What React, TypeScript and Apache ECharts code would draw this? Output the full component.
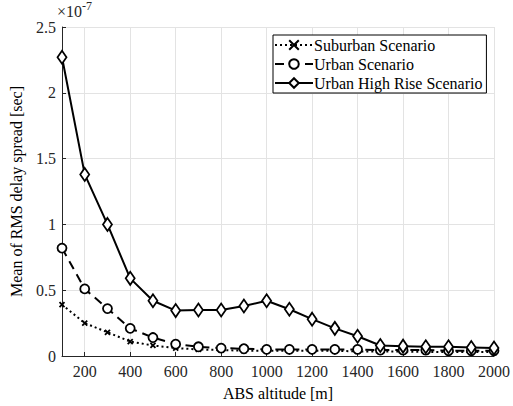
import React, { useEffect, useRef } from "react";
import * as echarts from "echarts";

const altitudes = [100, 200, 300, 400, 500, 600, 700, 800, 900, 1000, 1100, 1200, 1300, 1400, 1500, 1600, 1700, 1800, 1900, 2000];
// values in units of 1e-7 s
const suburban = [0.39, 0.25, 0.18, 0.11, 0.08, 0.06, 0.05, 0.045, 0.04, 0.04, 0.04, 0.04, 0.04, 0.035, 0.035, 0.035, 0.03, 0.03, 0.03, 0.03];
const urban = [0.82, 0.51, 0.36, 0.21, 0.14, 0.09, 0.07, 0.06, 0.055, 0.05, 0.05, 0.05, 0.05, 0.05, 0.045, 0.045, 0.045, 0.04, 0.04, 0.04];
const highRise = [2.27, 1.38, 1.0, 0.59, 0.42, 0.345, 0.35, 0.35, 0.38, 0.42, 0.355, 0.28, 0.21, 0.15, 0.08, 0.075, 0.07, 0.07, 0.065, 0.06];
const seriesNames = ["Suburban Scenario", "Urban Scenario", "Urban High Rise Scenario"];
const yTicks = { min: 0, max: 2.5, interval: 0.5 };

const FONT = "'Liberation Serif', 'Times New Roman', serif";

export default function App() {
  const ref = useRef<HTMLDivElement>(null);
  useEffect(() => {
    const chart = echarts.init(ref.current!, null, { renderer: "svg" });
    const showEven = (i: number) => i % 2 === 1;
    chart.setOption({
      animation: false,
      backgroundColor: "#fff",
      textStyle: { fontFamily: FONT },
      grid: { left: 57, right: 16, top: 27, bottom: 50, containLabel: false },
      legend: {
        orient: "vertical",
        left: 273,
        top: 35,
        padding: [2, 4, 2, 1],
        itemGap: 3,
        itemWidth: 38,
        itemHeight: 12,
        borderColor: "#000",
        borderWidth: 1,
        backgroundColor: "#fff",
        textStyle: { fontFamily: FONT, fontSize: 16, color: "#000", padding: [0, 0, 0, -4] },
        data: seriesNames,
      },
      xAxis: {
        type: "category",
        data: altitudes.map(String),
        boundaryGap: false,
        name: "ABS altitude [m]",
        nameLocation: "middle",
        nameGap: 29,
        nameTextStyle: { fontFamily: FONT, fontSize: 16, color: "#000" },
        axisLine: { lineStyle: { color: "#262626", width: 1 } },
        axisTick: { inside: true, length: 4, interval: showEven, lineStyle: { color: "#262626" } },
        axisLabel: { interval: showEven, fontFamily: FONT, fontSize: 16, color: "#262626", margin: 7 },
        splitLine: { show: true, interval: showEven, lineStyle: { color: "#e3e3e3", width: 1 } },
      },
      yAxis: {
        type: "value",
        ...yTicks,
        name: "Mean of RMS delay spread [sec]",
        nameLocation: "middle",
        nameGap: 38,
        nameTextStyle: { fontFamily: FONT, fontSize: 16, color: "#000" },
        axisLine: { show: true, lineStyle: { color: "#262626", width: 1 } },
        axisTick: { show: true, inside: true, length: 4, lineStyle: { color: "#262626" } },
        axisLabel: { fontFamily: FONT, fontSize: 16, color: "#262626", margin: 6 },
        splitLine: { show: true, lineStyle: { color: "#e3e3e3", width: 1 } },
      },
      graphic: [
        {
          type: "text",
          left: 57,
          top: 3,
          style: { text: "×10", fontFamily: FONT, fontSize: 16, fill: "#262626" },
        },
        {
          type: "text",
          left: 82,
          top: 0,
          style: { text: "-7", fontFamily: FONT, fontSize: 12, fill: "#262626" },
        },
      ],
      series: [
        {
          name: seriesNames[0],
          type: "line",
          data: suburban,
          showAllSymbol: true,
          symbol: "path://M0,0L10,10M10,0L0,10",
          symbolSize: 5,
          itemStyle: { color: "#000", borderColor: "#000", borderWidth: 1.8 },
          lineStyle: { color: "#000", width: 2, type: [2, 3] },
          z: 3,
        },
        {
          name: seriesNames[1],
          type: "line",
          data: urban,
          showAllSymbol: true,
          symbol: "circle",
          symbolSize: 9,
          itemStyle: { color: "#fff", borderColor: "#000", borderWidth: 1.8 },
          lineStyle: { color: "#000", width: 2, type: [9, 6] },
          z: 4,
        },
        {
          name: seriesNames[2],
          type: "line",
          data: highRise,
          showAllSymbol: true,
          symbol: "diamond",
          symbolSize: [9, 13],
          itemStyle: { color: "#fff", borderColor: "#000", borderWidth: 1.8 },
          lineStyle: { color: "#000", width: 2, type: "solid" },
          z: 5,
        },
      ],
    });
    return () => chart.dispose();
  }, []);
  return <div ref={ref} style={{ width: 513, height: 406, position: "absolute", left: 0, top: 0 }} />;
}
